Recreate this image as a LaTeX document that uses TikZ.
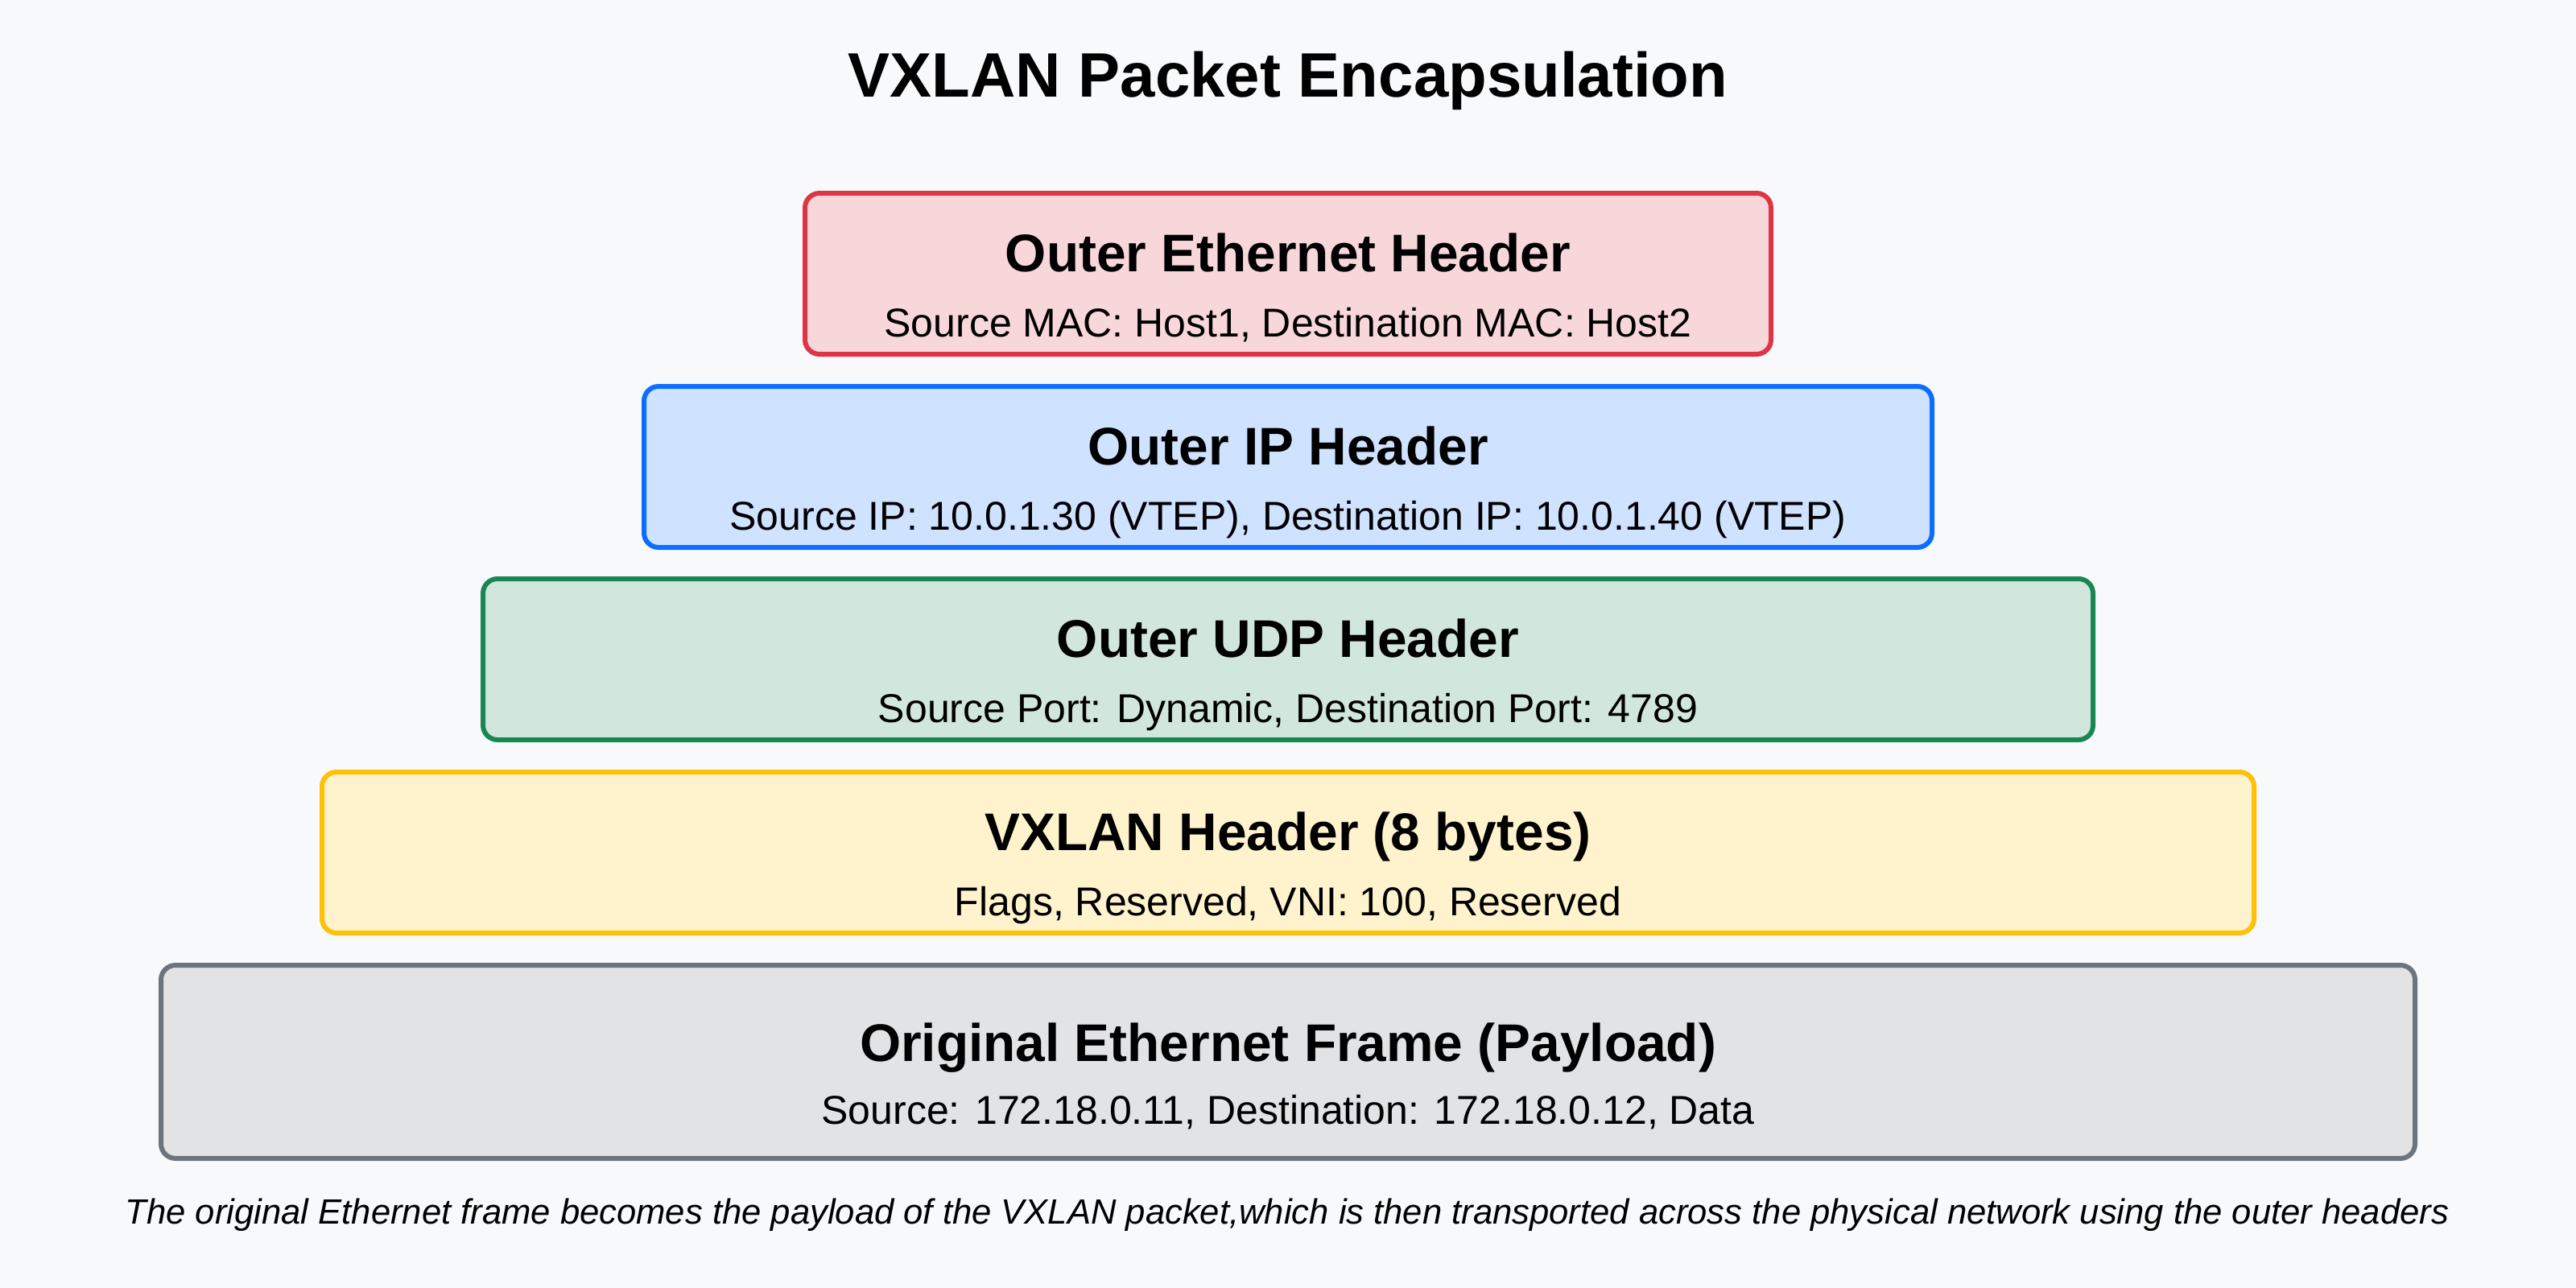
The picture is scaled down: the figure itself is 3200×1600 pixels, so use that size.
\documentclass[tikz,border=0pt]{standalone}
\usepackage{fontspec}
\setmainfont{Liberation Sans}
\usetikzlibrary{calc}
\definecolor{bgcol}{HTML}{F8F9FA}
\definecolor{redfill}{HTML}{F8D7DA}\definecolor{redline}{HTML}{DC3545}
\definecolor{bluefill}{HTML}{CFE2FF}\definecolor{blueline}{HTML}{0D6EFD}
\definecolor{greenfill}{HTML}{D1E7DD}\definecolor{greenline}{HTML}{198754}
\definecolor{yellowfill}{HTML}{FFF3CD}\definecolor{yellowline}{HTML}{FFC107}
\definecolor{grayfill}{HTML}{E2E3E5}\definecolor{grayline}{HTML}{6C757D}
\tikzset{
  layerbox/.style={draw, rounded corners=9pt, line width=3pt, inner sep=0pt, minimum height=100pt},
  maintitle/.style={anchor=base, inner sep=0pt, font=\fontsize{39}{46}\selectfont\bfseries},
  boxtitle/.style={anchor=base, inner sep=0pt, font=\fontsize{32.9}{39}\selectfont\bfseries},
  boxsub/.style={anchor=base, inner sep=0pt, font=\fontsize{25}{30}\selectfont},
  captiontext/.style={anchor=base, inner sep=0pt, font=\fontsize{21.8}{26}\selectfont\itshape}
}
\begin{document}
\begin{tikzpicture}[x=0.5pt, y=-0.5pt]
  \fill[bgcol] (0,0) rectangle (3200,1600);
  \useasboundingbox (0,0) rectangle (3200,1600);

  \node[maintitle] (title) at (1600,120) {VXLAN Packet Encapsulation};

  \node[layerbox, fill=redfill, draw=redline, minimum width=600pt] (b1) at (1600,340) {};
  \node[boxtitle] (t1) at ($(b1.north)+(0,100)$) {Outer Ethernet Header};
  \node[boxsub] (s1) at ($(b1.north)+(0,181)$) {Source MAC: Host1, Destination MAC: Host2};

  \node[layerbox, fill=bluefill, draw=blueline, minimum width=800pt] (b2) at (1600,580) {};
  \node[boxtitle] (t2) at ($(b2.north)+(0,100)$) {Outer IP Header};
  \node[boxsub] (s2) at ($(b2.north)+(0,181)$) {Source IP: 10.0.1.30 (VTEP), Destination IP: 10.0.1.40 (VTEP)};

  \node[layerbox, fill=greenfill, draw=greenline, minimum width=1000pt] (b3) at (1600,819) {};
  \node[boxtitle] (t3) at ($(b3.north)+(0,100)$) {Outer UDP Header};
  \node[boxsub] (s3) at ($(b3.north)+(0,181)$) {Source Port: Dynamic, Destination Port: 4789};

  \node[layerbox, fill=yellowfill, draw=yellowline, minimum width=1200pt] (b4) at (1600,1059) {};
  \node[boxtitle] (t4) at ($(b4.north)+(0,100)$) {VXLAN Header (8 bytes)};
  \node[boxsub] (s4) at ($(b4.north)+(0,181)$) {Flags, Reserved, VNI: 100, Reserved};

  \node[layerbox, fill=grayfill, draw=grayline, minimum width=1400pt, minimum height=120pt] (b5) at (1600,1319) {};
  \node[boxtitle] (t5) at ($(b5.north)+(0,122)$) {Original Ethernet Frame (Payload)};
  \node[boxsub] (s5) at ($(b5.north)+(0,200)$) {Source: 172.18.0.11, Destination: 172.18.0.12, Data};

  \node[captiontext] (cap) at (1599,1520) {The original Ethernet frame becomes the payload of the VXLAN packet,which is then transported across the physical network using the outer headers};
\end{tikzpicture}
\end{document}
